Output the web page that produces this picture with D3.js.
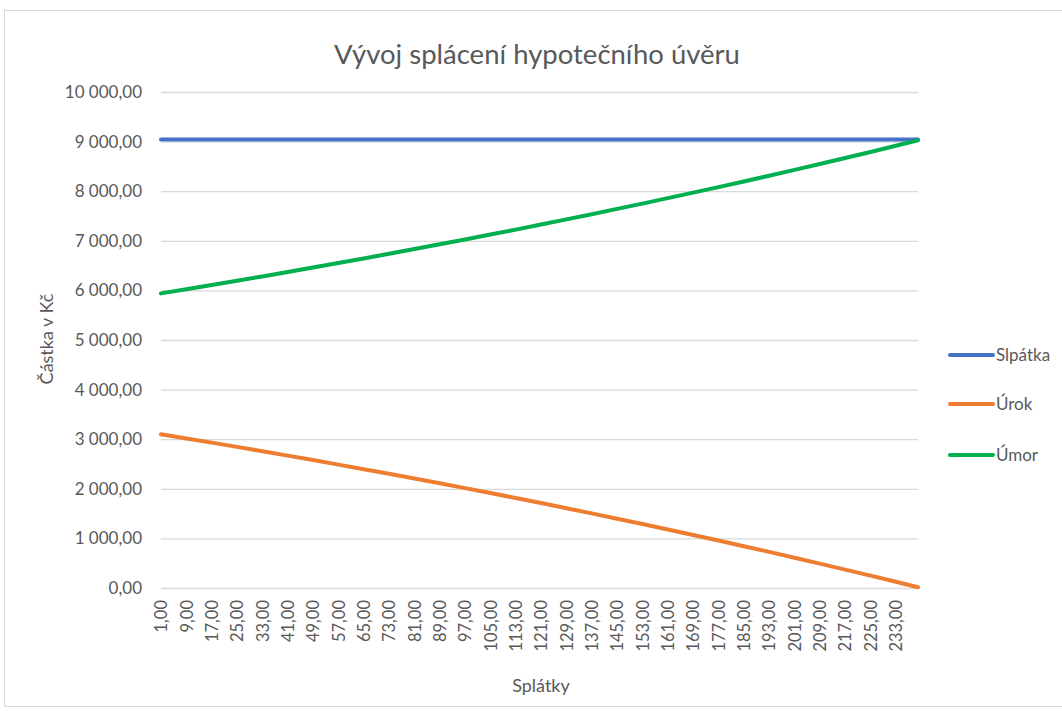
<!DOCTYPE html>
<html>
<head>
<meta charset="utf-8">
<script src="https://cdn.jsdelivr.net/npm/d3@7"></script>
<style>
  html, body { margin: 0; padding: 0; background: #ffffff; }
  svg { display: block; }
  text { font-family: Lato, "Open Sans", sans-serif; fill: #595959; }
</style>
</head>
<body>
<svg id="chart" width="1062" height="711"></svg>
<script>
// ---- data ----
const title = "Vývoj splácení hypotečního úvěru";
const xTitle = "Splátky";
const yTitle = "Částka v Kč";
const paymentCount = 240;
const xTickValues = [1, 9, 17, 25, 33, 41, 49, 57, 65, 73, 81, 89, 97, 105, 113, 121, 129, 137, 145, 153, 161, 169, 177, 185, 193, 201, 209, 217, 225, 233];
const yTickValues = [0, 1000, 2000, 3000, 4000, 5000, 6000, 7000, 8000, 9000, 10000];
const samplePayments = [1, 9, 17, 25, 33, 41, 49, 57, 65, 73, 81, 89, 97, 105, 113, 121, 129, 137, 145, 153, 161, 169, 177, 185, 193, 201, 209, 217, 225, 233, 240];
const splatka = [9040, 9040, 9040, 9040, 9040, 9040, 9040, 9040, 9040, 9040, 9040, 9040, 9040, 9040, 9040, 9040, 9040, 9040, 9040, 9040, 9040, 9040, 9040, 9040, 9040, 9040, 9040, 9040, 9040, 9040, 9040];
const urok = [3100, 3016, 2931, 2845, 2758, 2669, 2579, 2488, 2396, 2302, 2207, 2111, 2013, 1914, 1814, 1712, 1608, 1504, 1397, 1290, 1180, 1069, 957, 843, 728, 610, 491, 371, 249, 125, 15];
const umor = [5940, 6024, 6109, 6195, 6282, 6371, 6461, 6552, 6644, 6738, 6833, 6929, 7027, 7126, 7226, 7328, 7432, 7536, 7643, 7750, 7860, 7971, 8083, 8197, 8312, 8430, 8549, 8669, 8791, 8915, 9025];
const seriesNames = ["Slpátka", "Úrok", "Úmor"];
const seriesColors = ["#4472C4", "#ED7D31", "#00B050"];

// ---- layout ----
const svg = d3.select("#chart");
const plot = { left: 161, right: 918, top: 92, bottom: 588 };
const categories = d3.range(1, paymentCount + 1);

const x = d3.scalePoint().domain(categories).range([plot.left, plot.right]);
const y = d3.scaleLinear().domain([0, 10000]).range([plot.bottom, plot.top]);

const fmt = v => {
  const s = d3.format(",.2f")(v);
  return s.replace(/,/g, " ").replace(".", ",");
};

// outer frame
svg.append("rect")
  .attr("x", 4.5).attr("y", 10.5).attr("width", 1080).attr("height", 696)
  .attr("fill", "#ffffff").attr("stroke", "#d9d9d9").attr("stroke-width", 1);

// title
svg.append("text")
  .attr("x", 537).attr("y", 64)
  .attr("text-anchor", "middle")
  .style("font-size", "27.5px")
  .text(title);

// gridlines + y labels
const yAxis = d3.axisLeft(y).tickValues(yTickValues).tickSize(-(plot.right - plot.left)).tickPadding(19).tickFormat(fmt);
const gy = svg.append("g").attr("transform", `translate(${plot.left},0)`).call(yAxis);
gy.select(".domain").remove();
gy.selectAll(".tick line").attr("stroke", "#d9d9d9").attr("stroke-width", 1.3);
gy.selectAll(".tick text").style("font-size", "17px").attr("fill", "#595959").style("font-family", "Lato, sans-serif");

// x axis labels
const xAxis = d3.axisBottom(x).tickValues(xTickValues).tickSize(0).tickFormat(fmt);
const gx = svg.append("g").attr("transform", `translate(0,${plot.bottom})`).call(xAxis);
gx.select(".domain").remove();
gx.selectAll(".tick text")
  .style("font-size", "16.5px").attr("fill", "#595959").style("font-family", "Lato, sans-serif")
  .attr("text-anchor", "end")
  .attr("transform", "rotate(-90)")
  .attr("x", -12).attr("y", 0).attr("dy", "0.35em");

// axis titles
svg.append("text")
  .attr("transform", "translate(53,339) rotate(-90)")
  .attr("text-anchor", "middle")
  .style("font-size", "18px")
  .text(yTitle);
svg.append("text")
  .attr("x", 541).attr("y", 692)
  .attr("text-anchor", "middle")
  .style("font-size", "18px")
  .text(xTitle);

// lines
const line = d3.line().x(d => x(d[0])).y(d => y(d[1]));
const seriesData = [splatka, urok, umor].map(vals => samplePayments.map((p, i) => [p, vals[i]]));
svg.append("g").selectAll("path").data(seriesData).join("path")
  .attr("d", line)
  .attr("fill", "none")
  .attr("stroke", (d, i) => seriesColors[i])
  .attr("stroke-width", 4)
  .attr("stroke-linecap", "round")
  .attr("stroke-linejoin", "round");

// legend
const legendYs = [355, 404, 455];
const lg = svg.append("g").selectAll("g").data(seriesNames).join("g")
  .attr("transform", (d, i) => `translate(950,${legendYs[i]})`);
lg.append("line").attr("x1", 0).attr("x2", 43).attr("y1", 0).attr("y2", 0)
  .attr("stroke", (d, i) => seriesColors[i]).attr("stroke-width", 4).attr("stroke-linecap", "round");
lg.append("text").attr("x", 46).attr("y", 0).attr("dy", "0.36em")
  .style("font-size", "17px").text(d => d);
</script>
</body>
</html>
